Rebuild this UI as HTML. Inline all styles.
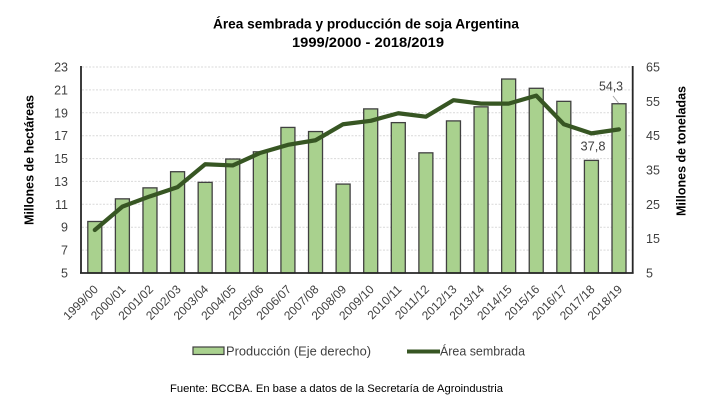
<!DOCTYPE html>
<html>
<head>
<meta charset="utf-8">
<style>
html,body{margin:0;padding:0;background:#fff;}
svg{display:block;}
text{font-family:"Liberation Sans",Arial,sans-serif;}
</style>
</head>
<body>
<svg width="722" height="404" viewBox="0 0 722 404" xmlns="http://www.w3.org/2000/svg">
<rect width="722" height="404" fill="#fff"/>
<!-- Title -->
<text x="366" y="28.5" text-anchor="middle" font-size="14" font-weight="bold" fill="#000" textLength="306" lengthAdjust="spacingAndGlyphs">Área sembrada y producción de soja Argentina</text>
<text x="368" y="47" text-anchor="middle" font-size="14" font-weight="bold" fill="#000" textLength="152" lengthAdjust="spacingAndGlyphs">1999/2000 - 2018/2019</text>

<!-- gridlines -->
<g stroke="#d9d9d9" stroke-width="1" stroke-dasharray="2,1.5">
<line x1="82" x2="632" y1="67" y2="67"/>
<line x1="82" x2="632" y1="89.9" y2="89.9"/>
<line x1="82" x2="632" y1="112.8" y2="112.8"/>
<line x1="82" x2="632" y1="135.7" y2="135.7"/>
<line x1="82" x2="632" y1="158.6" y2="158.6"/>
<line x1="82" x2="632" y1="181.4" y2="181.4"/>
<line x1="82" x2="632" y1="204.3" y2="204.3"/>
<line x1="82" x2="632" y1="227.2" y2="227.2"/>
<line x1="82" x2="632" y1="250.1" y2="250.1"/>
</g>

<!-- bars -->
<g fill="#a9d18e" stroke="#404040" stroke-width="1.3" id="bars"></g>

<!-- area line -->
<polyline id="line" fill="none" stroke="#375623" stroke-width="4.2" stroke-linejoin="round" stroke-linecap="round" points=""/>

<!-- axes -->
<g stroke="#262626" stroke-width="1.8">
<line x1="81" y1="66" x2="81" y2="273.5"/>
<line x1="632.7" y1="66" x2="632.7" y2="273.5"/>
<line x1="80" y1="273" x2="633.6" y2="273"/>
</g>

<!-- left tick labels -->
<g font-size="12.5" fill="#404040" text-anchor="end">
<text x="68" y="71.5">23</text>
<text x="68" y="94.4">21</text>
<text x="68" y="117.3">19</text>
<text x="68" y="140.2">17</text>
<text x="68" y="163.1">15</text>
<text x="68" y="185.9">13</text>
<text x="68" y="208.8">11</text>
<text x="68" y="231.7">9</text>
<text x="68" y="254.6">7</text>
<text x="68" y="277.5">5</text>
</g>
<!-- right tick labels -->
<g font-size="12.5" fill="#404040" text-anchor="start">
<text x="646" y="71.5">65</text>
<text x="646" y="105.8">55</text>
<text x="646" y="140.2">45</text>
<text x="646" y="174.5">35</text>
<text x="646" y="208.8">25</text>
<text x="646" y="243.2">15</text>
<text x="646" y="277.5">5</text>
</g>

<!-- axis titles -->
<text transform="translate(33.5,160) rotate(-90)" text-anchor="middle" font-size="13" font-weight="bold" fill="#000" textLength="130" lengthAdjust="spacingAndGlyphs">Millones de hectáreas</text>
<text transform="translate(685.5,151) rotate(-90)" text-anchor="middle" font-size="13" font-weight="bold" fill="#000" textLength="130" lengthAdjust="spacingAndGlyphs">Millones de toneladas</text>

<!-- x labels -->
<g id="xlabels" font-size="12" fill="#404040" text-anchor="end"></g>

<!-- data labels -->
<line x1="613" y1="96" x2="618.5" y2="103" stroke="#a6a6a6" stroke-width="1"/>
<text x="611" y="90.5" text-anchor="middle" font-size="12.5" fill="#404040" textLength="24" lengthAdjust="spacingAndGlyphs">54,3</text>
<text x="593" y="150.5" text-anchor="middle" font-size="12.5" fill="#404040" textLength="25" lengthAdjust="spacingAndGlyphs">37,8</text>

<!-- legend -->
<rect x="193" y="347" width="31" height="7.5" fill="#a9d18e" stroke="#404040" stroke-width="1.2"/>
<text x="226" y="355.5" font-size="12.5" fill="#404040" textLength="145" lengthAdjust="spacingAndGlyphs">Producción (Eje derecho)</text>
<line x1="407" y1="351.5" x2="440" y2="351.5" stroke="#375623" stroke-width="4"/>
<text x="440" y="355.5" font-size="12.5" fill="#404040" textLength="85" lengthAdjust="spacingAndGlyphs">Área sembrada</text>

<!-- footer -->
<text x="170" y="392" font-size="11" fill="#000" textLength="333" lengthAdjust="spacingAndGlyphs">Fuente: BCCBA. En base a datos de la Secretaría de Agroindustria</text>
</svg>
<script>
(function(){
var NS="http://www.w3.org/2000/svg";
var prod=[20.0,26.6,29.8,34.5,31.4,38.2,40.3,47.4,46.2,30.9,52.8,48.8,40.0,49.3,53.4,61.5,58.8,55.0,37.8,54.3];
var area=[8.76,10.8,11.7,12.5,14.5,14.4,15.5,16.2,16.6,18.0,18.3,18.96,18.66,20.1,19.8,19.8,20.5,18.0,17.2,17.55];
var labels=["1999/00","2000/01","2001/02","2002/03","2003/04","2004/05","2005/06","2006/07","2007/08","2008/09","2009/10","2010/11","2011/12","2012/13","2013/14","2014/15","2015/16","2016/17","2017/18","2018/19"];
var bars=document.getElementById("bars");
var xl=document.getElementById("xlabels");
var pts=[];
for(var i=0;i<20;i++){
  var cx=94.8+27.59*i;
  var yt=273-(prod[i]-5)*3.4333;
  var r=document.createElementNS(NS,"rect");
  r.setAttribute("x",(cx-7).toFixed(2));
  r.setAttribute("y",yt.toFixed(2));
  r.setAttribute("width","14");
  r.setAttribute("height",(273-yt).toFixed(2));
  bars.appendChild(r);
  var ly=273-(area[i]-5)*11.444;
  pts.push(cx.toFixed(2)+","+ly.toFixed(2));
  var t=document.createElementNS(NS,"text");
  t.setAttribute("transform","translate("+(cx+4).toFixed(2)+",290) rotate(-45)");
  t.textContent=labels[i];
  xl.appendChild(t);
}
document.getElementById("line").setAttribute("points",pts.join(" "));
})();
</script>
</body>
</html>
